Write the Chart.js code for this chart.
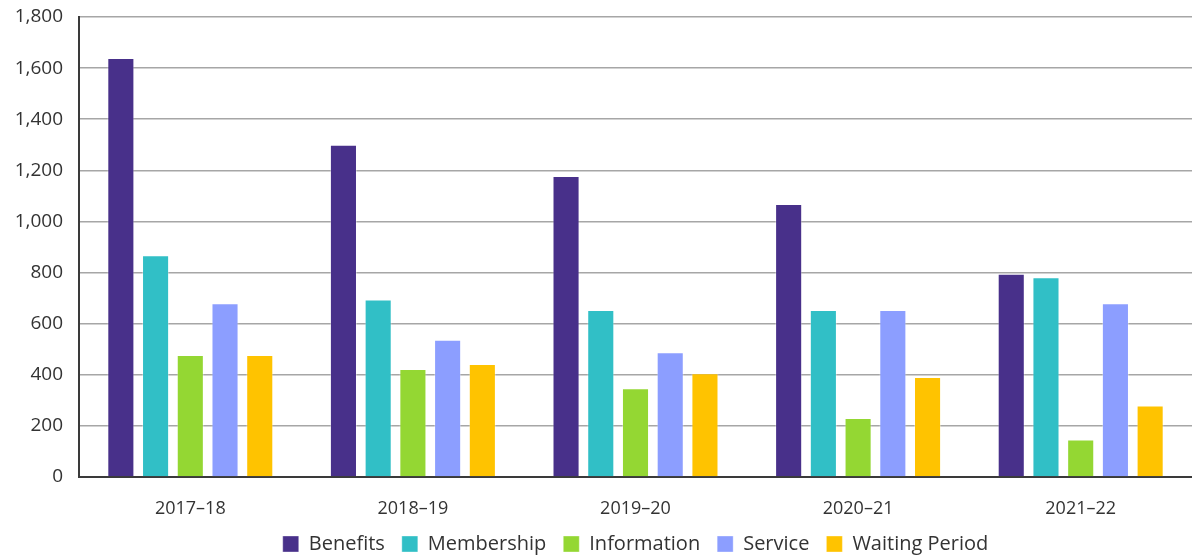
<!DOCTYPE html>
<html>
<head>
<meta charset="utf-8">
<script src="https://cdn.jsdelivr.net/npm/chart.js@4/dist/chart.umd.min.js"></script>
<style>
  html, body { margin: 0; padding: 0; background: #fff; }
  #wrap { width: 1192px; height: 558px; }
</style>
</head>
<body>
<div id="wrap"><canvas id="chart"></canvas></div>
<script>
const years = ['2017–18', '2018–19', '2019–20', '2020–21', '2021–22'];
const benefits = [1640, 1300, 1178, 1068, 795];
const membership = [868, 695, 653, 653, 782];
const information = [477, 423, 347, 231, 147];
const service = [680, 537, 488, 653, 680];
const waitingPeriod = [477, 442, 406, 391, 280];

const yTicks = [0, 200, 400, 600, 800, 1000, 1200, 1400, 1600, 1800];

Chart.defaults.font.family = 'Open Sans';
Chart.defaults.font.size = 18;
Chart.defaults.color = '#333333';

function series(label, data, color) {
  return {
    label,
    data,
    backgroundColor: color,
    borderColor: 'rgba(255,255,255,0.35)',
    borderWidth: 1,
    categoryPercentage: 0.78,
    barPercentage: 0.78
  };
}

new Chart(document.getElementById('chart'), {
  type: 'bar',
  data: {
    labels: years,
    datasets: [
      series('Benefits', benefits, '#48308a'),
      series('Membership', membership, '#31bfc6'),
      series('Information', information, '#94d733'),
      series('Service', service, '#8c9eff'),
      series('Waiting Period', waitingPeriod, '#ffc300')
    ]
  },
  options: {
    responsive: true,
    maintainAspectRatio: false,
    animation: false,
    layout: { padding: 0 },
    plugins: {
      tooltip: { enabled: false },
      legend: {
        position: 'bottom',
        labels: {
          boxWidth: 16,
          boxHeight: 16,
          padding: 17,
          color: '#333333',
          font: { size: 20 }
        }
      }
    },
    scales: {
      x: {
        grid: { display: false },
        border: { color: '#3a3a3a', width: 2 },
        ticks: { padding: 13, color: '#333333' },
        afterFit: (scale) => { scale.height = 40; }
      },
      y: {
        min: 0,
        max: 1800,
        afterBuildTicks: (scale) => { scale.ticks = yTicks.map(v => ({ value: v })); },
        grid: { color: '#a6a6a6', lineWidth: 1.5, drawTicks: false },
        border: { color: '#3a3a3a', width: 2 },
        ticks: {
          padding: 16,
          color: '#333333',
          font: { size: 19 },
          callback: (v) => v.toLocaleString('en-US')
        },
        afterFit: (scale) => {
          scale.width = 79;
          scale.paddingTop = 17;
          scale.paddingBottom = 0;
        }
      }
    }
  },
  plugins: [{
    id: 'legendFit',
    beforeInit(chart) {
      const fit = chart.legend.fit;
      chart.legend.fit = function () {
        fit.bind(chart.legend)();
        this.height = 41;
      };
    },
    afterLayout(chart) {
      // centre the legend under the plot area, not the whole canvas
      const shift = (chart.chartArea.left + chart.chartArea.right) / 2 - chart.width / 2;
      chart.legend.left += shift;
      chart.legend.right += shift;
    }
  }]
});
</script>
</body>
</html>
